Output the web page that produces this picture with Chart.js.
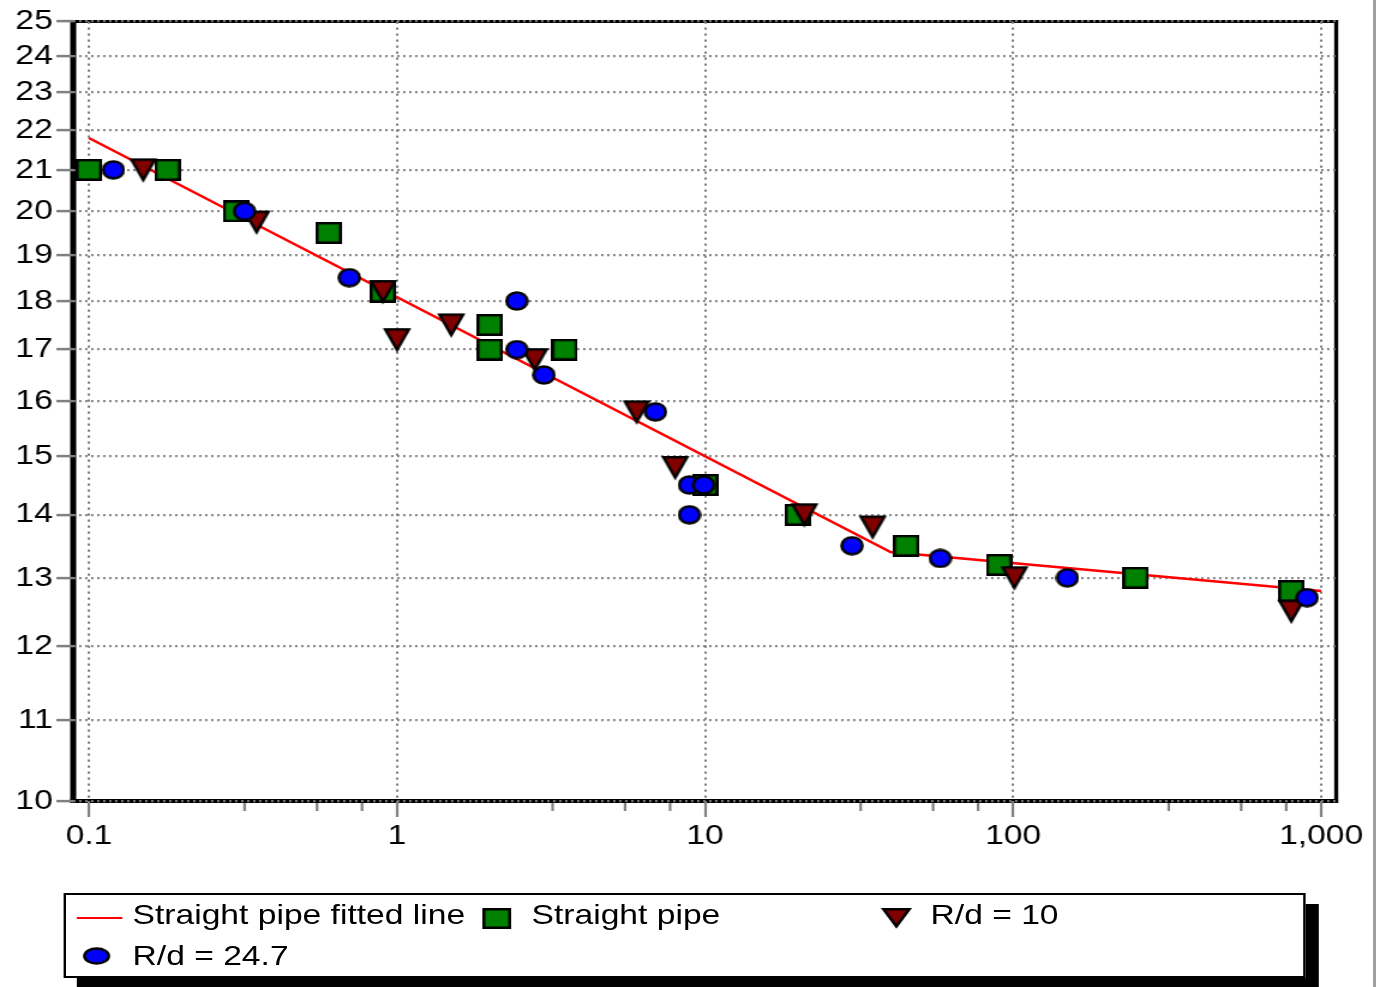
<!DOCTYPE html>
<html>
<head>
<meta charset="utf-8">
<script src="https://cdn.jsdelivr.net/npm/chart.js@4.4.1/dist/chart.umd.min.js"></script>
<style>
  html, body { margin: 0; padding: 0; background: #fff; overflow: hidden; width: 1382px; height: 987px; }
  #wrap { position: absolute; left: 0; top: 0; width: 1152px; height: 987px; transform: scaleX(1.2); transform-origin: 0 0; }
  #c { position: absolute; left: 0; top: 0; }
  #legend { position: absolute; left: 52.5px; top: 893px; width: 1035px; height: 85px; box-sizing: border-box;
            border: 2px solid #000; background: #fff; box-shadow: 11px 11px 0 #000;
            font-family: 'Liberation Sans', Arial, sans-serif; font-size: 28px; color: #000; }
  .txt { position: absolute; height: 34px; line-height: 34px; white-space: nowrap; }
  .mk { position: absolute; }
  #edge { position: absolute; left: 1373px; top: 0; width: 3px; height: 987px; background: #a0a0a0; }
</style>
</head>
<body>
<div id="wrap">
  <canvas id="c" width="1152" height="987"></canvas>
  <div id="legend">
    <div class="mk" style="left:9.5px;top:21.5px;width:37.5px;height:2.5px;background:#ff0000;"></div>
    <div class="txt" id="l0" style="left:56px;top:3px;"></div>
    <canvas class="mk" id="m1" width="24" height="21" style="left:347px;top:12.5px;"></canvas>
    <div class="txt" id="l1" style="left:388.5px;top:3px;"></div>
    <canvas class="mk" id="m2" width="26" height="22" style="left:679.5px;top:12px;"></canvas>
    <div class="txt" id="l2" style="left:721px;top:3px;"></div>
    <canvas class="mk" id="m3" width="23" height="18" style="left:14px;top:51.5px;"></canvas>
    <div class="txt" id="l3" style="left:56px;top:44px;"></div>
  </div>
</div>
<div id="edge"></div>
<script>
// ---------- data ----------
const SERIES_NAMES = ['Straight pipe fitted line', 'Straight pipe', 'R/d = 10', 'R/d = 24.7'];

const X_MIN = 0.0889, X_MAX = 1119;
const Y_MIN = 10, Y_MAX = 25;
const X_TICKS = [0.1, 1, 10, 100, 1000];
const X_TICK_LABELS = ['0.1', '1', '10', '100', '1,000'];
const X_MINOR = [0.32, 0.55, 0.77, 3.2, 5.5, 7.7, 32, 55, 77, 320, 550, 770];
const Y_TICKS = [10, 11, 12, 13, 14, 15, 16, 17, 18, 19, 20, 21, 22, 23, 24, 25];
const Y_TICK_LABELS = ['10', '11', '12', '13', '14', '15', '16', '17', '18', '19', '20', '21', '22', '23', '24', '25'];

const fitX = [0.1, 40, 1000];
const fitY = [21.8, 13.4, 12.8];

const spX = [0.1, 0.18, 0.3, 0.6, 0.9, 2, 2, 3.5, 10, 20, 45, 90, 250, 800];
const spY = [21, 21, 20, 19.5, 18.2, 17.5, 17, 17, 14.5, 14, 13.5, 13.2, 13, 12.8];

const rd10X = [0.15, 0.35, 0.9, 1.0, 1.5, 2.8, 6, 8, 21, 35, 101, 800];
const rd10Y = [21, 19.75, 18.2, 17.2, 17.5, 16.8, 15.8, 14.8, 14, 13.8, 13.0, 12.5];

const rd24X = [0.12, 0.32, 0.7, 2.45, 2.45, 3, 6.9, 8.9, 9.9, 8.9, 30, 58, 150, 900];
const rd24Y = [21, 20, 18.5, 18, 17, 16.5, 15.8, 14.5, 14.5, 14, 13.5, 13.3, 13, 12.7];

// ---------- markers ----------
const FONT = "'Liberation Sans', Arial, sans-serif";
const GREEN = '#008000', BLUE = '#0000ff', DARKRED = '#800000';

function squareMarker(cv, w, h) {
  const c = cv || document.createElement('canvas');
  c.width = w; c.height = h;
  const g = c.getContext('2d');
  g.fillStyle = GREEN; g.strokeStyle = '#000'; g.lineWidth = 2.5;
  g.fillRect(1.25, 1.25, w - 2.5, h - 2.5);
  g.strokeRect(1.25, 1.25, w - 2.5, h - 2.5);
  return c;
}
function ellipseMarker(cv, w, h) {
  const c = cv || document.createElement('canvas');
  c.width = w; c.height = h;
  const g = c.getContext('2d');
  g.fillStyle = BLUE; g.strokeStyle = '#000'; g.lineWidth = 2.5;
  g.beginPath(); g.ellipse(w / 2, h / 2, w / 2 - 1.4, h / 2 - 1.4, 0, 0, Math.PI * 2);
  g.fill(); g.stroke();
  return c;
}
function triangleMarker(cv, w, h, pad) {
  const c = cv || document.createElement('canvas');
  c.width = w + 2 * pad; c.height = h + 2 * pad;
  const g = c.getContext('2d');
  g.fillStyle = DARKRED; g.strokeStyle = '#000'; g.lineWidth = 2.5; g.lineJoin = 'miter';
  g.beginPath();
  g.moveTo(pad + 1.2, pad + 1.2);
  g.lineTo(pad + w - 1.2, pad + 1.2);
  g.lineTo(pad + w / 2, pad + h - 1.5);
  g.closePath(); g.fill(); g.stroke();
  return c;
}

const sqImg = squareMarker(null, 22, 22);
const elImg = ellipseMarker(null, 20, 20);
const trImg = triangleMarker(null, 22, 23, 3);

// legend
squareMarker(document.getElementById('m1'), 24, 21);
triangleMarker(document.getElementById('m2'), 24, 20, 1);
ellipseMarker(document.getElementById('m3'), 23, 18);
SERIES_NAMES.forEach((n, i) => { document.getElementById('l' + i).textContent = n; });

const pts = (xs, ys) => xs.map((x, i) => ({ x: x, y: ys[i] }));

// ---------- plugins ----------
const frame = {
  id: 'frame',
  beforeDraw(chart) {
    const { ctx, chartArea: a } = chart;
    ctx.save();
    ctx.strokeStyle = '#000';
    // top
    ctx.lineWidth = 3;
    ctx.beginPath(); ctx.moveTo(a.left, a.top); ctx.lineTo(a.right + 1.6, a.top); ctx.stroke();
    // right
    ctx.lineWidth = 3.3;
    ctx.beginPath(); ctx.moveTo(a.right, a.top - 1.5); ctx.lineTo(a.right, a.bottom + 2); ctx.stroke();
    // bottom (x axis line)
    ctx.lineWidth = 4;
    ctx.beginPath(); ctx.moveTo(a.left - 2.5, a.bottom); ctx.lineTo(a.right + 1.6, a.bottom); ctx.stroke();
    // left (y axis line)
    ctx.lineWidth = 5;
    ctx.beginPath(); ctx.moveTo(a.left, a.top - 1.5); ctx.lineTo(a.left, a.bottom + 2); ctx.stroke();
    ctx.restore();
  }
};
const minorTicks = {
  id: 'minorTicks',
  afterDraw(chart) {
    const s = chart.scales.x, ctx = chart.ctx, b = chart.chartArea.bottom;
    ctx.save();
    ctx.strokeStyle = '#808080'; ctx.lineWidth = 2.2;
    X_MINOR.forEach(v => {
      const px = s.getPixelForValue(v);
      ctx.beginPath(); ctx.moveTo(px, b + 2); ctx.lineTo(px, b + 10); ctx.stroke();
    });
    ctx.restore();
  }
};

Chart.defaults.font.family = FONT;
Chart.defaults.font.size = 28;
Chart.defaults.color = '#000';

new Chart(document.getElementById('c'), {
  type: 'scatter',
  data: {
    datasets: [
      { label: SERIES_NAMES[0], data: pts(fitX, fitY), showLine: true, borderColor: '#ff0000', borderWidth: 2.5,
        pointRadius: 0, tension: 0, fill: false, order: 4 },
      { label: SERIES_NAMES[1], data: pts(spX, spY), pointStyle: sqImg, pointRadius: 10, order: 3 },
      { label: SERIES_NAMES[2], data: pts(rd10X, rd10Y), pointStyle: trImg, pointRadius: 10, order: 2 },
      { label: SERIES_NAMES[3], data: pts(rd24X, rd24Y), pointStyle: elImg, pointRadius: 10, order: 1 }
    ]
  },
  options: {
    responsive: false,
    animation: false,
    events: [],
    layout: { padding: { left: 0, right: 38.5, top: 21.5, bottom: 126 } },
    plugins: { legend: { display: false }, tooltip: { enabled: false } },
    scales: {
      x: {
        type: 'logarithmic', position: 'bottom', min: X_MIN, max: X_MAX,
        afterBuildTicks: s => { s.ticks = X_TICKS.map(v => ({ value: v })); },
        afterFit: s => { s.height = 60; },
        ticks: { autoSkip: false, maxRotation: 0, minRotation: 0, padding: 2, color: '#000',
                 font: { family: FONT, size: 28 }, callback: (v, i) => X_TICK_LABELS[i] },
        grid: { color: '#808080', lineWidth: 2, tickLength: 16, tickColor: '#808080', tickWidth: 2.2 },
        border: { display: false, dash: [2.2, 3.8] }
      },
      y: {
        type: 'logarithmic', position: 'left', min: Y_MIN, max: Y_MAX,
        afterBuildTicks: s => { s.ticks = Y_TICKS.map(v => ({ value: v })); },
        afterFit: s => { s.width = 61; },
        ticks: { autoSkip: false, padding: 3, color: '#000',
                 font: { family: FONT, size: 28 }, callback: (v, i) => Y_TICK_LABELS[i] },
        grid: { color: '#808080', lineWidth: 2.2, tickLength: 14, tickColor: '#808080', tickWidth: 2.5 },
        border: { display: false, dash: [1.8, 3.2] }
      }
    }
  },
  plugins: [frame, minorTicks]
});
</script>
</body>
</html>
